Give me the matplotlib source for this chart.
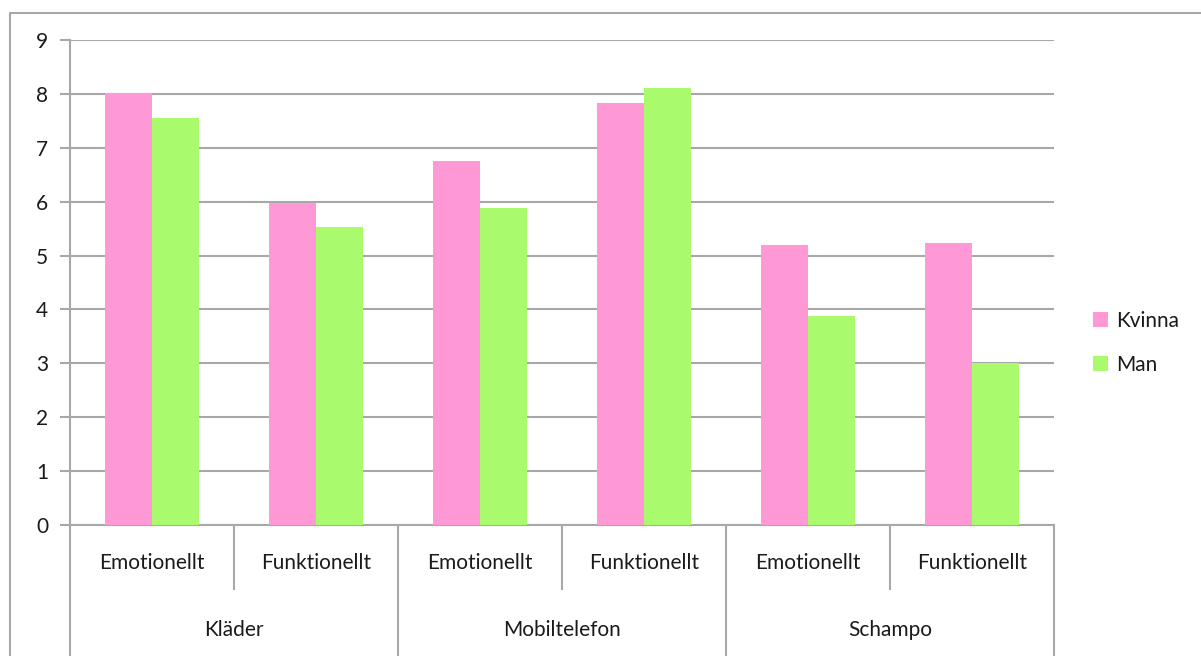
import matplotlib.pyplot as plt
from matplotlib.lines import Line2D
import numpy as np

plt.rcParams['font.family'] = ['Lato', 'DejaVu Sans']

groups = ['Kläder', 'Mobiltelefon', 'Schampo']
subcats = ['Emotionellt', 'Funktionellt']
kvinna = [8.02, 5.97, 6.75, 7.83, 5.19, 5.23]
man = [7.55, 5.53, 5.88, 8.11, 3.88, 3.0]

pink = '#fe99d6'
green = '#a9fa6c'
grid_c = '#a8a8a8'
fs = 15

W, H = 1201, 656
fig = plt.figure(figsize=(W / 100, H / 100), dpi=100)
ax = fig.add_axes([70 / W, (H - 525) / H, (1054 - 70) / W, (525 - 40) / H])

n = len(kvinna)
x = np.arange(n)
bw = 0.287
ax.bar(x - bw / 2, kvinna, bw, color=pink, label='Kvinna', zorder=3)
ax.bar(x + bw / 2, man, bw, color=green, label='Man', zorder=3)

ax.set_xlim(-0.5, n - 0.5)
ax.set_ylim(0, 9)
ax.set_yticks(range(10))
ax.yaxis.grid(True, color=grid_c, lw=1.5, zorder=0)
ax.tick_params(axis='y', length=7, width=1.5, color=grid_c, labelsize=fs, pad=13)
for lbl in ax.get_yticklabels():
    lbl.set_ha('center')
    lbl.set_color('#1a1a1a')
ax.set_xticks([])
for s in ['top', 'right']:
    ax.spines[s].set_visible(False)
ax.spines['left'].set_color(grid_c)
ax.spines['left'].set_linewidth(1.5)
ax.spines['bottom'].set_color(grid_c)
ax.spines['bottom'].set_linewidth(1.5)

ah = 525 - 40
sub_y = (525 - 563) / ah
grp_y = (525 - 630) / ah
sub_line = (525 - 589) / ah
grp_line = (525 - 656) / ah
tr = ax.get_xaxis_transform()

for i in range(n):
    ax.text(i, sub_y, subcats[i % 2], ha='center', va='center', fontsize=fs, transform=tr,
            color='#1a1a1a')
for i in range(n + 1):
    bottom = grp_line if i % 2 == 0 else sub_line
    ax.add_line(Line2D([i - 0.5, i - 0.5], [0, bottom], transform=tr, color=grid_c,
                       lw=1.5, clip_on=False))
for g, name in enumerate(groups):
    ax.text(2 * g + 0.5, grp_y, name, ha='center', va='center', fontsize=fs, transform=tr,
            color='#1a1a1a')

# outer frame (left and top)
fig.add_artist(Line2D([10 / W, 10 / W, 1.0], [0, (H - 13) / H, (H - 13) / H],
                      transform=fig.transFigure, color=grid_c, lw=1.5))

leg = fig.legend(loc='center left', bbox_to_anchor=(1074 / W, (H - 343) / H), frameon=False,
                 fontsize=fs, handlelength=0.75, handleheight=0.75, handletextpad=0.35,
                 labelspacing=1.15)
for t in leg.get_texts():
    t.set_color('#1a1a1a')

fig.savefig('out.png', dpi=100)
